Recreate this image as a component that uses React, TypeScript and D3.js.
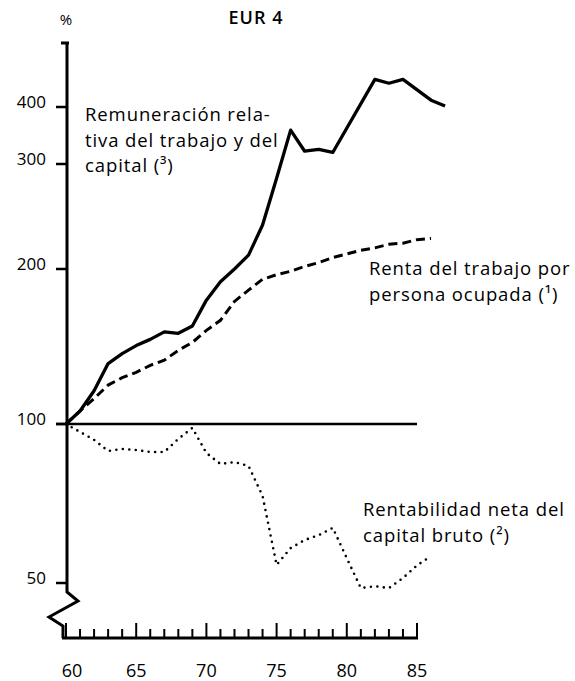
import * as d3 from "d3";

// Remuneración relativa del trabajo y del capital (3)
const remYears = [60, 61, 62, 63, 64, 65, 66, 67, 68, 69, 70, 71, 72, 73, 74, 75, 76, 77, 78, 79, 82, 83, 84, 86, 87];
const remValues = [100, 106, 116, 131, 137, 142, 146, 151, 150, 155, 174, 189, 200, 211, 237, 284, 356, 320, 323, 318, 460, 451, 460, 414, 402];

// Renta del trabajo por persona ocupada (1)
const rentaYears = [60, 61, 62, 63, 64, 65, 66, 67, 68, 69, 70, 71, 72, 73, 74, 75, 76, 77, 78, 79, 80, 81, 82, 83, 84, 85, 86];
const rentaValues = [100, 106, 112, 119, 123, 126, 130, 133, 139, 144, 152, 159, 173, 182, 191, 195, 198, 202, 205, 209, 212, 215, 217, 220, 221, 224, 225];

// Rentabilidad neta del capital bruto (2)
const rentabYears = [60, 61, 62, 63, 64, 65, 66, 67, 68, 69, 70, 71, 72, 73, 74, 75, 76, 77, 78, 79, 80, 81, 82, 83, 84, 85, 86];
const rentabValues = [100, 96.6, 93.3, 88.9, 89.7, 89.3, 88.5, 88.5, 93.7, 98.3, 88.1, 84, 84.7, 83.3, 73.1, 54.1, 58.2, 60.3, 61.6, 63.6, 55.7, 48.9, 49.3, 48.9, 51.1, 54, 56.2];

const yTicks = [50, 100, 200, 300, 400];
const xLabels = [60, 65, 70, 75, 80, 85];
const xYears = d3.range(60, 86);

const W = 575;
const H = 681;
const font = "'Open Sans', sans-serif";

export default function App() {
  const x = d3.scaleLinear().domain([60, 85]).range([66, 417]);
  // ratio scale, piecewise as drawn in the original
  const y = d3.scaleLog().domain([50, 100, 200, 300, 400]).range([583, 424, 269, 164, 107]);

  const axisX = 67;
  const axisTop = 43;
  const baseY = 638;
  const breakTop = 592;
  const lh = 25.5;

  const line = (ys: number[], vs: number[]) =>
    d3.line<number>().x((_, i) => x(ys[i])).y((v) => y(v))(vs) || "";

  const breakPath = d3.line()([
    [axisX, axisTop],
    [axisX, breakTop],
    [axisX + 11, breakTop + 9],
    [axisX - 18, breakTop + 25],
    [axisX - 4, breakTop + 34],
    [axisX - 4, baseY],
  ]) || "";

  return (
    <svg width={W} height={H} style={{ position: "absolute", left: 0, top: 0, background: "#fff" }} fontFamily={font}>
      <text x={66} y={25} fontSize={15} textAnchor="middle">%</text>
      <text x={256} y={24} fontSize={18} fontWeight={600} letterSpacing={1} textAnchor="middle">EUR 4</text>

      {/* y axis with break */}
      <path d={breakPath} fill="none" stroke="#000" strokeWidth={3} strokeLinejoin="miter" />
      <line x1={axisX - 6} x2={axisX + 2} y1={axisTop} y2={axisTop} stroke="#000" strokeWidth={3} />
      {yTicks.map((t) => (
        <g key={t}>
          <line x1={axisX - 11} x2={axisX} y1={y(t)} y2={y(t)} stroke="#000" strokeWidth={2.5} />
          <text x={axisX - 21} y={y(t) + 1} fontSize={17} textAnchor="end">{t}</text>
        </g>
      ))}

      {/* 100 reference line */}
      <line x1={axisX - 11} x2={x(85)} y1={y(100)} y2={y(100)} stroke="#000" strokeWidth={2.5} />

      {/* x axis */}
      <line x1={axisX - 5} x2={x(85) + 1} y1={baseY} y2={baseY} stroke="#000" strokeWidth={3} />
      {xYears.map((yr) => (
        <line key={yr} x1={x(yr)} x2={x(yr)} y1={baseY} y2={baseY - (yr % 5 === 0 ? 15 : 9)} stroke="#000" strokeWidth={2} />
      ))}
      {xLabels.map((yr) => (
        <text key={yr} x={x(yr) + (yr === 60 ? 6 : 0)} y={677} fontSize={18} textAnchor="middle">{yr}</text>
      ))}

      {/* series */}
      <path d={line(remYears, remValues)} fill="none" stroke="#000" strokeWidth={3.3} strokeLinejoin="round" />
      <path d={line(rentaYears, rentaValues)} fill="none" stroke="#000" strokeWidth={3} strokeDasharray="9 5" />
      <path d={line(rentabYears, rentabValues)} fill="none" stroke="#000" strokeWidth={2.6} strokeDasharray="0 6.5" strokeLinecap="round" />

      {/* labels */}
      <g fontSize={18.5} letterSpacing={0.9}>
        <text x={85} y={121}>Remuneración rela-</text>
        <text x={85} y={121 + lh}>tiva del trabajo y del</text>
        <text x={85} y={121 + 2 * lh}>capital (³)</text>
        <text x={369} y={275}>Renta del trabajo por</text>
        <text x={369} y={275 + lh}>persona ocupada (¹)</text>
        <text x={363} y={516}>Rentabilidad neta del</text>
        <text x={363} y={516 + lh}>capital bruto (²)</text>
      </g>
    </svg>
  );
}
